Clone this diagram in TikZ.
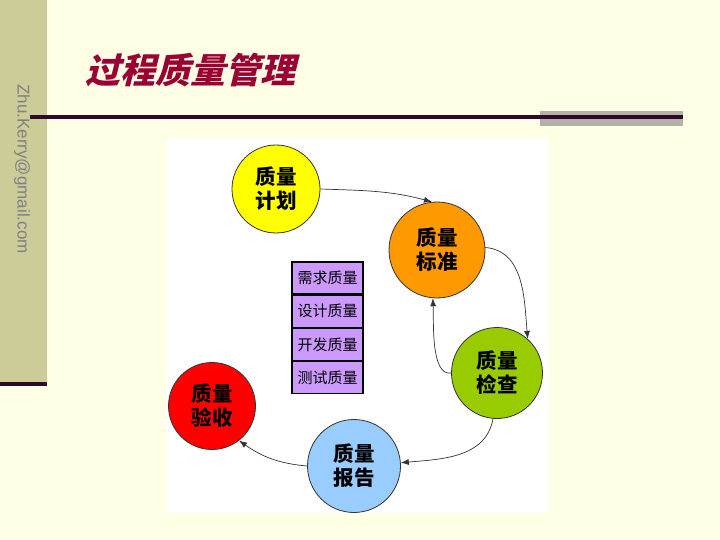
\documentclass[tikz,border=0pt]{standalone}
\usepackage{fontspec}
\setmainfont{Liberation Sans}
\newfontfamily\cjk{Noto Sans CJK SC}
\newfontfamily\titlefont{Noto Sans CJK SC}[FakeSlant=0.25]
\usetikzlibrary{arrows.meta}
\definecolor{bg}{HTML}{FFFFE5}
\definecolor{strip}{HTML}{CCCC99}
\definecolor{darkline}{HTML}{2E0A2A}
\definecolor{grayrect}{HTML}{B2B2AA}
\definecolor{titlered}{HTML}{990033}
\definecolor{mailgray}{HTML}{808080}
\definecolor{cyellow}{HTML}{FFFF00}
\definecolor{corange}{HTML}{FF9900}
\definecolor{cgreen}{HTML}{99CC00}
\definecolor{cblue}{HTML}{99CCFF}
\definecolor{cred}{HTML}{FF0000}
\definecolor{cpurple}{HTML}{CC99FF}
\tikzset{
  stage/.style={circle, draw=black!80, line width=0.8pt, inner sep=0pt,
    align=center, font=\cjk\bfseries\fontsize{20.5}{24}\selectfont},
  layer/.style={rectangle, draw=black, line width=1.2pt, fill=cpurple,
    minimum width=71pt, minimum height=32pt, inner sep=0pt,
    font=\cjk\fontsize{15}{17}\selectfont},
  flow/.style={draw=black!80, line width=0.7pt, -{Latex[length=8pt,width=6pt]}}
}
\begin{document}
\begin{tikzpicture}[x=1pt,y=-1pt]
\fill[bg] (0,0) rectangle (720,540);
\useasboundingbox (0,0) rectangle (720,540);
% left strip
\fill[strip] (0,0) rectangle (47,383);
\fill[darkline] (0,382) rectangle (47,386);
\node[rotate=-90, text=mailgray, font=\fontsize{17}{20}\selectfont] (mail) at (22,169) {Zhu.Kerry@gmail.com};
% title
\node[text=titlered, font=\titlefont\bfseries\fontsize{35}{40}\selectfont] (title) at (190,70) {过程质量管理};
% top rule
\fill[grayrect] (540,111) rectangle (683,126);
\draw[darkline, line width=3.5pt] (30,117) -- (683,117);
% panel
\fill[white] (166,138) rectangle (548,513);
% circles
\node[stage, fill=cyellow, minimum size=88pt] (plan) at (276,189) {质量\\计划};
\node[stage, fill=corange, minimum size=96pt] (std) at (437,250) {质量\\标准};
\node[stage, fill=cgreen, minimum size=91pt] (chk) at (497,373) {质量\\检查};
\node[stage, fill=cblue, minimum size=93pt] (rep) at (354,466) {质量\\报告};
\node[stage, fill=cred, minimum size=87pt] (acc) at (212,406) {质量\\验收};
% purple stack
\node[layer] (l1) at (327.5,278) {需求质量};
\node[layer, anchor=north] (l2) at (l1.south) {设计质量};
\node[layer, anchor=north] (l3) at (l2.south) {开发质量};
\node[layer, anchor=north] (l4) at (l3.south) {测试质量};
% arrows
\draw[flow] (plan.east) to[out=-2, in=165] (std.96);
\draw[flow] (std.3) to[out=-5, in=95] (chk.48);
\draw[flow] (chk.180) to[out=190, in=-87, looseness=0.7] (std.-95);
\draw[flow] (chk.-95) to[out=-100, in=5] (rep.4);
\draw[flow] (rep.west) to[out=175, in=-35] (acc.-52);
\end{tikzpicture}
\end{document}
